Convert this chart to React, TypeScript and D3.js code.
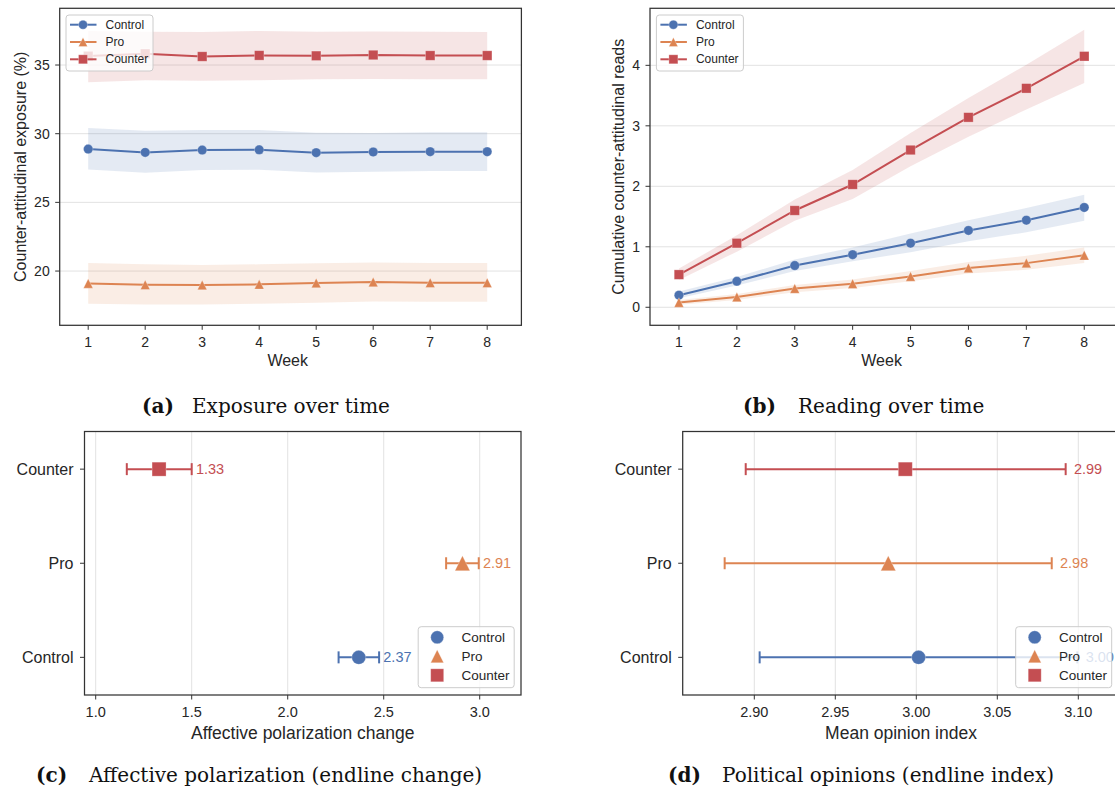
import React from "react";
import * as d3 from "d3";

// ---- data ----
const weeks = [1, 2, 3, 4, 5, 6, 7, 8];
const groups = ["Control", "Pro", "Counter"];

// (a) exposure over time, %
const exposureControl = [28.88, 28.64, 28.81, 28.83, 28.62, 28.67, 28.69, 28.69];
const exposureControlLo = [27.4, 27.16, 27.35, 27.38, 27.18, 27.23, 27.28, 27.28];
const exposureControlHi = [30.41, 30.22, 30.27, 30.27, 30.07, 30.05, 30.1, 30.1];
const exposurePro = [19.1, 19.0, 18.98, 19.03, 19.13, 19.2, 19.15, 19.15];
const exposureProLo = [17.62, 17.57, 17.57, 17.62, 17.69, 17.79, 17.77, 17.77];
const exposureProHi = [20.58, 20.49, 20.44, 20.49, 20.56, 20.63, 20.58, 20.58];
const exposureCounter = [35.65, 35.82, 35.62, 35.7, 35.67, 35.73, 35.69, 35.69];
const exposureCounterLo = [33.74, 33.9, 33.86, 33.9, 33.96, 33.98, 33.96, 33.96];
const exposureCounterHi = [37.48, 37.43, 37.4, 37.48, 37.43, 37.45, 37.43, 37.4];
const exposureTicks = [20, 25, 30, 35];

// (b) cumulative counter-attitudinal reads
const readsControl = [0.2, 0.43, 0.69, 0.87, 1.06, 1.27, 1.44, 1.65];
const readsControlLo = [0.15, 0.36, 0.6, 0.76, 0.91, 1.09, 1.24, 1.43];
const readsControlHi = [0.26, 0.5, 0.79, 0.99, 1.22, 1.44, 1.64, 1.86];
const readsPro = [0.08, 0.17, 0.31, 0.39, 0.51, 0.65, 0.73, 0.86];
const readsProLo = [0.04, 0.12, 0.25, 0.32, 0.43, 0.56, 0.62, 0.73];
const readsProHi = [0.12, 0.22, 0.37, 0.46, 0.6, 0.75, 0.85, 0.99];
const readsCounter = [0.54, 1.06, 1.6, 2.03, 2.6, 3.14, 3.62, 4.15];
const readsCounterLo = [0.45, 0.92, 1.43, 1.79, 2.33, 2.82, 3.27, 3.71];
const readsCounterHi = [0.64, 1.19, 1.78, 2.27, 2.88, 3.46, 4.01, 4.59];
const readsTicks = [0, 1, 2, 3, 4];

// (c) affective polarization change (Control, Pro, Counter)
const polMean = [2.37, 2.91, 1.33];
const polLo = [2.265, 2.825, 1.162];
const polHi = [2.476, 2.995, 1.5];
const polTicks = [1.0, 1.5, 2.0, 2.5, 3.0];

// (d) mean opinion index
const opMean = [3.0014, 2.9827, 2.9932];
const opLo = [2.9033, 2.8817, 2.8947];
const opHi = [3.0994, 3.0836, 3.0922];
const opTicks = [2.9, 2.95, 3.0, 3.05, 3.1];

const colors: Record<string, string> = { Control: "#4C72B0", Pro: "#DD8452", Counter: "#C44E52" };
const shapes: Record<string, string> = { Control: "circle", Pro: "triangle", Counter: "square" };

const SANS = "'Liberation Sans', Arial, Helvetica, sans-serif";
const SERIF = "'DejaVu Serif', serif";
const INK = "#262626";
const SPINE = "#333333";
const GRID = "#e2e2e2";

function Marker({ kind, x, y, s, color }: any) {
  const common = { fill: color, stroke: "#ffffff", strokeOpacity: 0.35, strokeWidth: 0.8 };
  if (kind === "circle") return <circle cx={x} cy={y} r={s / 2} {...common} />;
  if (kind === "square") return <rect x={x - s / 2} y={y - s / 2} width={s} height={s} {...common} />;
  const h = s / 2;
  return <path d={`M${x},${y - h}L${x + h},${y + h}L${x - h},${y + h}Z`} {...common} />;
}

function Frame({ b }: any) {
  return (
    <rect x={b.l} y={b.t} width={b.r - b.l} height={b.b - b.t} fill="none" stroke={SPINE} strokeWidth={1.25} />
  );
}

function LineChart({ b, yDomain, yTicks, series, ylabel, ylabelX }: any) {
  const x = d3.scaleLinear().domain([0.5, 8.6]).range([b.l, b.l + 8.1 * b.step]);
  const y = d3.scaleLinear().domain(yDomain).range([b.b, b.t]);
  const line = d3.line<number>().x((_, i) => x(weeks[i])).y((d) => y(d));
  const band = (lo: number[], hi: number[]) =>
    d3
      .area<number>()
      .x((_, i) => x(weeks[i]))
      .y0((_, i) => y(lo[i]))
      .y1((_, i) => y(hi[i]))(lo) as string;
  const lg = { x: b.legendX, y: 15, w: 87, h: 56 };
  return (
    <g>
      <defs>
        <clipPath id={`clip-${b.l}`}>
          <rect x={b.l} y={b.t} width={b.r - b.l} height={b.b - b.t} />
        </clipPath>
      </defs>
      {yTicks.map((t: number) => (
        <line key={t} x1={b.l} x2={b.r} y1={y(t)} y2={y(t)} stroke={GRID} strokeWidth={1} />
      ))}
      <g clipPath={`url(#clip-${b.l})`}>
        {series.map((s: any) => (
          <path key={s.name + "band"} d={band(s.lo, s.hi)} fill={colors[s.name]} fillOpacity={0.15} />
        ))}
        {series.map((s: any) => (
          <g key={s.name}>
            <path d={line(s.values) as string} fill="none" stroke={colors[s.name]} strokeWidth={2} />
            {s.values.map((v: number, i: number) => (
              <Marker key={i} kind={shapes[s.name]} x={x(weeks[i])} y={y(v)} s={9.5} color={colors[s.name]} />
            ))}
          </g>
        ))}
      </g>
      <Frame b={b} />
      {weeks.map((w) => (
        <g key={w}>
          <line x1={x(w)} x2={x(w)} y1={b.b} y2={b.b + 4.5} stroke={SPINE} strokeWidth={1} />
          <text x={x(w)} y={b.b + 21.4} textAnchor="middle" fontSize={14} fill={INK} fontFamily={SANS}>
            {w}
          </text>
        </g>
      ))}
      {yTicks.map((t: number) => (
        <g key={t}>
          <line x1={b.l - 4.5} x2={b.l} y1={y(t)} y2={y(t)} stroke={SPINE} strokeWidth={1} />
          <text x={b.l - 10} y={y(t)} dy="0.35em" textAnchor="end" fontSize={14} fill={INK} fontFamily={SANS}>
            {t}
          </text>
        </g>
      ))}
      <text x={(x(1) + x(8)) / 2} y={b.b + 40.4} textAnchor="middle" fontSize={16} fill={INK} fontFamily={SANS}>
        Week
      </text>
      <text
        transform={`translate(${ylabelX},${(b.t + b.b) / 2}) rotate(-90)`}
        textAnchor="middle"
        dominantBaseline="central"
        fontSize={16}
        fill={INK}
        fontFamily={SANS}
      >
        {ylabel}
      </text>
      <rect x={lg.x} y={lg.y} width={lg.w} height={lg.h} rx={3} fill="#ffffff" fillOpacity={0.8} stroke="#cccccc" strokeWidth={1} />
      {series.map((s: any, i: number) => {
        const ly = 24.7 + i * 17.3;
        return (
          <g key={s.name}>
            <line x1={lg.x + 4} x2={lg.x + 30.5} y1={ly} y2={ly} stroke={colors[s.name]} strokeWidth={2} />
            <Marker kind={shapes[s.name]} x={lg.x + 17} y={ly} s={9} color={colors[s.name]} />
            <text x={lg.x + 39.5} y={ly} dominantBaseline="central" fontSize={12} fill={INK} fontFamily={SANS}>
              {s.name}
            </text>
          </g>
        );
      })}
    </g>
  );
}

function DotChart({ b, xDomain, xTicks, fmt, mean, lo, hi, labels, xlabel, labelPad, lw }: any) {
  const x = d3.scaleLinear().domain(xDomain).range([b.l, b.r]);
  const y = d3.scaleLinear().domain([-0.4, 2.4]).range([b.b, b.t]);
  const lg = { x: b.legendX, y: 626.7, w: 96, h: 61 };
  return (
    <g>
      {xTicks.map((t: number) => (
        <line key={t} x1={x(t)} x2={x(t)} y1={b.t} y2={b.b} stroke={GRID} strokeWidth={1} />
      ))}
      {groups.map((g, i) => {
        const cy = y(i);
        const c = colors[g];
        return (
          <g key={g}>
            <line x1={x(lo[i])} x2={x(hi[i])} y1={cy} y2={cy} stroke={c} strokeWidth={lw} />
            <line x1={x(lo[i])} x2={x(lo[i])} y1={cy - 6} y2={cy + 6} stroke={c} strokeWidth={lw} />
            <line x1={x(hi[i])} x2={x(hi[i])} y1={cy - 6} y2={cy + 6} stroke={c} strokeWidth={lw} />
            <Marker kind={shapes[g]} x={x(mean[i])} y={cy} s={g === "Pro" ? 15 : 14} color={c} />
            <text x={x(hi[i]) + labelPad} y={cy} dominantBaseline="central" fontSize={14.5} fill={c} fontFamily={SANS}>
              {labels[i]}
            </text>
          </g>
        );
      })}
      <Frame b={b} />
      {xTicks.map((t: number) => (
        <g key={t}>
          <line x1={x(t)} x2={x(t)} y1={b.b} y2={b.b + 4.5} stroke={SPINE} strokeWidth={1} />
          <text x={x(t)} y={b.b + 21.6} textAnchor="middle" fontSize={14.5} fill={INK} fontFamily={SANS}>
            {d3.format(fmt)(t)}
          </text>
        </g>
      ))}
      {groups.map((g, i) => (
        <g key={g}>
          <line x1={b.l - 4.5} x2={b.l} y1={y(i)} y2={y(i)} stroke={SPINE} strokeWidth={1} />
          <text x={b.l - 11} y={y(i)} dy="0.35em" textAnchor="end" fontSize={16} fill={INK} fontFamily={SANS}>
            {g}
          </text>
        </g>
      ))}
      <text x={b.xlabelX} y={b.b + 44} textAnchor="middle" fontSize={17.5} fill={INK} fontFamily={SANS}>
        {xlabel}
      </text>
      <rect x={lg.x} y={lg.y} width={lg.w} height={lg.h} rx={3} fill="#ffffff" fillOpacity={0.8} stroke="#cccccc" strokeWidth={1} />
      {groups.map((g, i) => {
        const ly = 637.3 + i * 19;
        return (
          <g key={g}>
            <Marker kind={shapes[g]} x={lg.x + 19} y={ly} s={13} color={colors[g]} />
            <text x={lg.x + 43.3} y={ly} dominantBaseline="central" fontSize={13.5} fill={INK} fontFamily={SANS}>
              {g}
            </text>
          </g>
        );
      })}
    </g>
  );
}

function Caption({ x, x2, y, tag, title }: any) {
  return (
    <g fontFamily={SERIF} fontSize={20} fill="#111">
      <text x={x} y={y} fontWeight="bold">
        {tag}
      </text>
      <text x={x2} y={y}>
        {title}
      </text>
    </g>
  );
}

export default function App() {
  const A = { l: 59.7, r: 521.4, t: 8.3, b: 325.3, step: 57, legendX: 66 };
  const B = { l: 650, r: 1130, t: 8.3, b: 325.3, step: 57.9, legendX: 656.4 };
  const C = { l: 84.5, r: 521, t: 431.5, b: 695, legendX: 418.2, xlabelX: 302.7 };
  const D = { l: 682.7, r: 1140, t: 431.5, b: 695, legendX: 1015.7, xlabelX: 901 };
  const dRight = 2.8558 + (D.r - D.l) / 1620;
  return (
    <svg
      width={1115}
      height={798}
      style={{ position: "absolute", left: 0, top: 0, background: "#fff" }}
    >
      <rect width={1115} height={798} fill="#fff" />
      <LineChart
        b={A}
        yDomain={[16.05, 39.13]}
        yTicks={exposureTicks}
        ylabel="Counter-attitudinal exposure (%)"
        ylabelX={20.3}
        series={[
          { name: "Control", values: exposureControl, lo: exposureControlLo, hi: exposureControlHi },
          { name: "Pro", values: exposurePro, lo: exposureProLo, hi: exposureProHi },
          { name: "Counter", values: exposureCounter, lo: exposureCounterLo, hi: exposureCounterHi },
        ]}
      />
      <LineChart
        b={B}
        yDomain={[-0.298, 4.943]}
        yTicks={readsTicks}
        ylabel="Cumulative counter-attitudinal reads"
        ylabelX={618.2}
        series={[
          { name: "Control", values: readsControl, lo: readsControlLo, hi: readsControlHi },
          { name: "Pro", values: readsPro, lo: readsProLo, hi: readsProHi },
          { name: "Counter", values: readsCounter, lo: readsCounterLo, hi: readsCounterHi },
        ]}
      />
      <DotChart
        b={C}
        xDomain={[0.9417, 3.215]}
        xTicks={polTicks}
        fmt=".1f"
        mean={polMean}
        lo={polLo}
        hi={polHi}
        labels={polMean.map((v) => v.toFixed(2))}
        xlabel="Affective polarization change"
        labelPad={4.2}
        lw={2}
      />
      <DotChart
        b={D}
        xDomain={[2.8558, dRight]}
        xTicks={opTicks}
        fmt=".2f"
        mean={opMean}
        lo={opLo}
        hi={opHi}
        labels={opMean.map((v) => v.toFixed(2))}
        xlabel="Mean opinion index"
        labelPad={8.3}
        lw={2}
      />
      <Caption x={142} x2={192} y={413} tag="(a)" title="Exposure over time" />
      <Caption x={743} x2={798} y={413} tag="(b)" title="Reading over time" />
      <Caption x={36} x2={89} y={782} tag="(c)" title="Affective polarization (endline change)" />
      <Caption x={668} x2={722} y={782} tag="(d)" title="Political opinions (endline index)" />
    </svg>
  );
}
